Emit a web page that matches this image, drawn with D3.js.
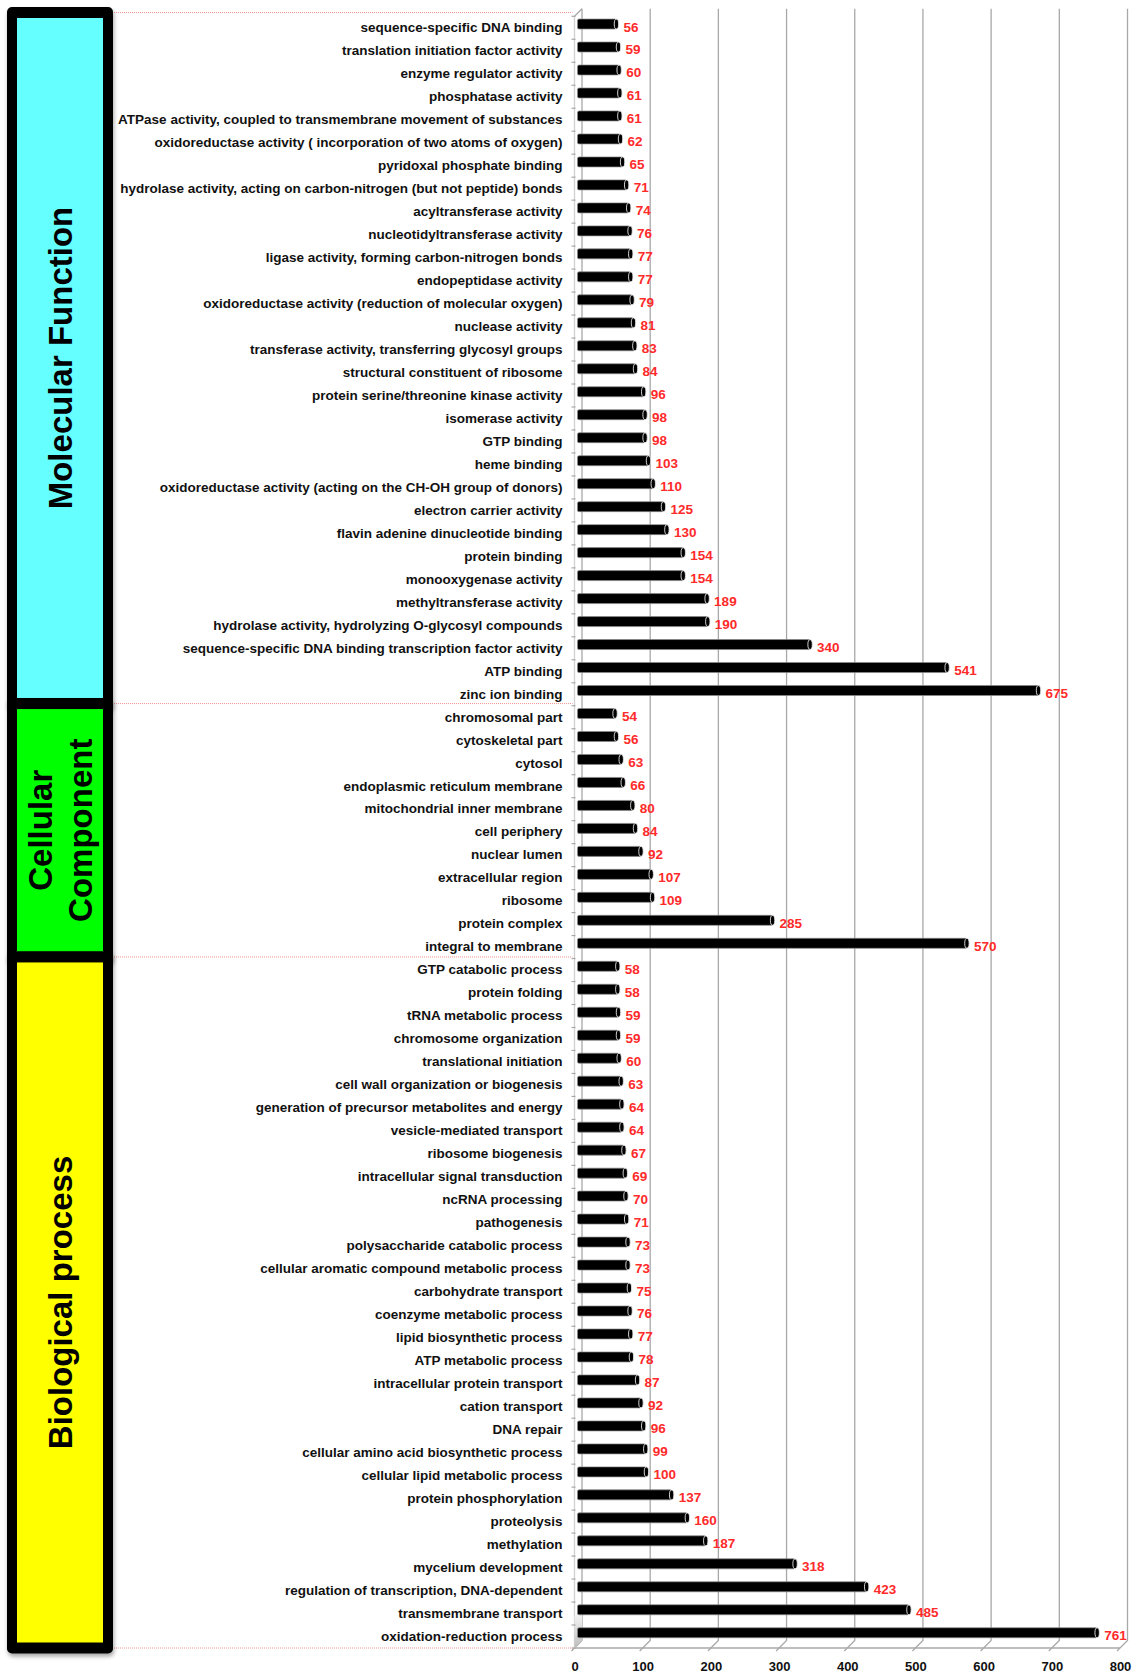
<!DOCTYPE html>
<html>
<head>
<meta charset="utf-8">
<script src="https://cdn.jsdelivr.net/npm/d3@7"></script>
<style>
  body { margin: 0; background: #fff; }
  text { font-family: "Liberation Sans", Arial, sans-serif; }
</style>
</head>
<body>
<div id="chart"></div>
<script>
// GO categories, top to bottom, with gene counts
var mfTerms = ["sequence-specific DNA binding", "translation initiation factor activity", "enzyme regulator activity",
  "phosphatase activity", "ATPase activity, coupled to transmembrane movement of substances",
  "oxidoreductase activity ( incorporation of two atoms of oxygen)", "pyridoxal phosphate binding",
  "hydrolase activity, acting on carbon-nitrogen (but not peptide) bonds", "acyltransferase activity",
  "nucleotidyltransferase activity", "ligase activity, forming carbon-nitrogen bonds", "endopeptidase activity",
  "oxidoreductase activity (reduction of molecular oxygen)", "nuclease activity",
  "transferase activity, transferring glycosyl groups", "structural constituent of ribosome",
  "protein serine/threonine kinase activity", "isomerase activity", "GTP binding", "heme binding",
  "oxidoreductase activity (acting on the CH-OH group of donors)", "electron carrier activity",
  "flavin adenine dinucleotide binding", "protein binding", "monooxygenase activity", "methyltransferase activity",
  "hydrolase activity, hydrolyzing O-glycosyl compounds", "sequence-specific DNA binding transcription factor activity",
  "ATP binding", "zinc ion binding"];
var mfCounts = [56, 59, 60, 61, 61, 62, 65, 71, 74, 76, 77, 77, 79, 81, 83, 84, 96, 98, 98, 103,
  110, 125, 130, 154, 154, 189, 190, 340, 541, 675];

var ccTerms = ["chromosomal part", "cytoskeletal part", "cytosol", "endoplasmic reticulum membrane",
  "mitochondrial inner membrane", "cell periphery", "nuclear lumen", "extracellular region", "ribosome",
  "protein complex", "integral to membrane"];
var ccCounts = [54, 56, 63, 66, 80, 84, 92, 107, 109, 285, 570];

var bpTerms = ["GTP catabolic process", "protein folding", "tRNA metabolic process", "chromosome organization",
  "translational initiation", "cell wall organization or biogenesis", "generation of precursor metabolites and energy",
  "vesicle-mediated transport", "ribosome biogenesis", "intracellular signal transduction", "ncRNA processing",
  "pathogenesis", "polysaccharide catabolic process", "cellular aromatic compound metabolic process",
  "carbohydrate transport", "coenzyme metabolic process", "lipid biosynthetic process", "ATP metabolic process",
  "intracellular protein transport", "cation transport", "DNA repair", "cellular amino acid biosynthetic process",
  "cellular lipid metabolic process", "protein phosphorylation", "proteolysis", "methylation",
  "mycelium development", "regulation of transcription, DNA-dependent", "transmembrane transport",
  "oxidation-reduction process"];
var bpCounts = [58, 58, 59, 59, 60, 63, 64, 64, 67, 69, 70, 71, 73, 73, 75, 76, 77, 78, 87, 92, 96, 99,
  100, 137, 160, 187, 318, 423, 485, 761];

var groupTitles = [["Molecular Function"], ["Cellular", "Component"], ["Biological process"]];
var xTicks = [0, 100, 200, 300, 400, 500, 600, 700, 800];

var groupFill = ["#66ffff", "#00ff00", "#ffff00"];

function draw_go_chart() {
  var width = 1132, height = 1673;
  var depth = 7.5;
  var floorY = 1648;

  var rows = [], groups = [];
  [[mfTerms, mfCounts], [ccTerms, ccCounts], [bpTerms, bpCounts]].forEach(function(g, gi) {
    groups.push({ start: rows.length, n: g[0].length, title: groupTitles[gi], fill: groupFill[gi] });
    g[0].forEach(function(t, i) { rows.push({ term: t, count: g[1][i], group: gi }); });
  });

  var svg = d3.select("#chart").append("svg")
    .attr("width", width)
    .attr("height", height);

  var defs = svg.append("defs");
  var shadow = defs.append("filter").attr("id", "shadow")
    .attr("x", "-20%").attr("y", "-5%").attr("width", "140%").attr("height", "110%");
  shadow.append("feDropShadow")
    .attr("dx", 1).attr("dy", 3).attr("stdDeviation", 2)
    .attr("flood-color", "#000").attr("flood-opacity", 0.35);
  var wallGrad = defs.append("linearGradient").attr("id", "wallGrad")
    .attr("x1", 0).attr("y1", 0).attr("x2", 0).attr("y2", 1);
  wallGrad.append("stop").attr("offset", "0%").attr("stop-color", "#fff");
  wallGrad.append("stop").attr("offset", "100%").attr("stop-color", "#bdbdbd");

  var x = d3.scaleLinear().domain([0, 800]).range([574.5, 1120]);
  var y = d3.scaleBand().domain(d3.range(rows.length)).range([16.3, floorY]);
  var edge = d3.scaleLinear().domain([0, rows.length]).range([12.5, floorY]);
  var bw = y.bandwidth();

  // back wall gridlines with the slanted floor ticks
  var grid = svg.append("g").attr("class", "grid")
    .attr("fill", "none").attr("stroke", "#a8a8a8").attr("stroke-width", 1.3);
  grid.selectAll("path.gl")
    .data(xTicks)
    .enter().append("path")
    .attr("class", "gl")
    .attr("d", function(d) {
      return "M" + (x(d) + depth) + "," + (16.3 - depth) + "V" + (floorY - depth) +
        "L" + (x(d) - 3) + "," + (floorY + 3);
    });
  grid.append("path")
    .attr("d", "M" + x(0) + "," + 16.3 + "L" + (x(0) + depth) + "," + (16.3 - depth));
  grid.append("path")
    .attr("d", "M" + x(0) + "," + floorY + "H" + x(800));
  grid.append("path")
    .attr("stroke", "#d0d0d0")
    .attr("d", "M" + x(0) + "," + 16.3 + "V" + floorY);

  svg.append("path")
    .attr("fill", "url(#wallGrad)")
    .attr("d", "M" + x(0) + "," + floorY + "L" + (x(0) + depth) + "," + (floorY - depth) +
      "V" + (floorY - 40) + "L" + x(0) + "," + (floorY - 32) + "Z");

  // row ticks on the left wall
  svg.append("g").selectAll("line")
    .data(d3.range(rows.length + 1))
    .enter().append("line")
    .attr("x1", x(0) - 3).attr("x2", x(0) + 1)
    .attr("y1", function(d) { return 16.3 + d * bw; })
    .attr("y2", function(d) { return 16.3 + d * bw; })
    .attr("stroke", "#a8a8a8").attr("stroke-width", 1.2);

  // dotted red separators
  var seps = [0].concat(groups.map(function(g) { return g.start + g.n; }));
  svg.append("g").selectAll("line")
    .data(seps)
    .enter().append("line")
    .attr("x1", 110).attr("x2", x(0) - 2)
    .attr("y1", function(d) { return edge(d); })
    .attr("y2", function(d) { return edge(d); })
    .attr("stroke", "#f07070").attr("stroke-width", 1)
    .attr("stroke-dasharray", "1,1").attr("opacity", 0.75);

  // category axis
  var yAxis = svg.append("g")
    .attr("transform", "translate(" + x(0) + ",0)")
    .call(d3.axisLeft(y).tickSize(0).tickPadding(12)
      .tickFormat(function(i) { return rows[i].term; }));
  yAxis.select(".domain").remove();
  yAxis.selectAll("text")
    .style("font-family", '"Liberation Sans", Arial, sans-serif')
    .style("font-size", "13.5px")
    .style("font-weight", "bold")
    .attr("fill", "#111");

  // value axis
  var xAxis = svg.append("g")
    .attr("transform", "translate(0," + floorY + ")")
    .call(d3.axisBottom(x).tickValues(xTicks).tickSize(0).tickPadding(14));
  xAxis.select(".domain").remove();
  xAxis.selectAll("text")
    .style("font-family", '"Liberation Sans", Arial, sans-serif')
    .style("font-size", "13px")
    .style("font-weight", "bold")
    .attr("fill", "#111");

  // cylinder-like bars
  var bar = svg.append("g").selectAll("g.bar")
    .data(rows)
    .enter().append("g")
    .attr("class", "bar")
    .attr("transform", function(d, i) { return "translate(0," + (y(i) + bw / 2 - depth / 2) + ")"; });

  bar.append("rect")
    .attr("x", x(0) + 3)
    .attr("y", -5)
    .attr("height", 10)
    .attr("width", function(d) { return x(d.count) + depth / 2 - x(0) - 3; })
    .attr("rx", 1.5)
    .attr("fill", "#000")
    .attr("stroke", "#8a8a8a")
    .attr("stroke-width", 0.7);

  bar.append("ellipse")
    .attr("cx", function(d) { return x(d.count) + depth / 2; })
    .attr("rx", 2.2).attr("ry", 4.9)
    .attr("fill", "#000")
    .attr("stroke", "#e8e8e8")
    .attr("stroke-width", 0.9);

  svg.append("g").selectAll("text")
    .data(rows)
    .enter().append("text")
    .attr("x", function(d) { return x(d.count) + depth / 2 + 7; })
    .attr("y", function(d, i) { return y(i) + bw / 2 - 1; })
    .attr("dy", "0.35em")
    .style("font-family", '"Liberation Sans Narrow", "Arial Narrow", "Liberation Sans", sans-serif')
    .style("font-stretch", "condensed")
    .style("font-size", "13.5px")
    .style("font-weight", "bold")
    .attr("fill", "#ff2a2a")
    .text(function(d) { return d.count; });

  // coloured group boxes
  var box = svg.append("g").selectAll("g.box")
    .data(groups)
    .enter().append("g")
    .attr("class", "box");

  box.append("rect")
    .attr("x", 7)
    .attr("y", function(d) { return edge(d.start) - 5.5; })
    .attr("width", 106)
    .attr("height", function(d) { return edge(d.start + d.n) - edge(d.start) + 11; })
    .attr("rx", 5)
    .attr("fill", "#000")
    .attr("filter", "url(#shadow)");

  box.append("rect")
    .attr("x", 17)
    .attr("y", function(d) { return edge(d.start) + 5.5; })
    .attr("width", 86)
    .attr("height", function(d) { return edge(d.start + d.n) - edge(d.start) - 11; })
    .attr("fill", function(d) { return d.fill; });

  box.append("text")
    .attr("transform", function(d) {
      return "translate(60," + (edge(d.start) + edge(d.start + d.n)) / 2 + ") rotate(-90)";
    })
    .attr("text-anchor", "middle")
    .style("font-size", "33px")
    .style("font-weight", "bold")
    .attr("fill", "#000")
    .selectAll("tspan")
    .data(function(d) { return d.title.map(function(t, k) { return { t: t, k: k, n: d.title.length }; }); })
    .enter().append("tspan")
    .attr("x", 0)
    .attr("y", function(d) { return (d.k - (d.n - 1) / 2) * 40; })
    .attr("dy", "0.35em")
    .text(function(d) { return d.t; });
}

draw_go_chart();
</script>
</body>
</html>
